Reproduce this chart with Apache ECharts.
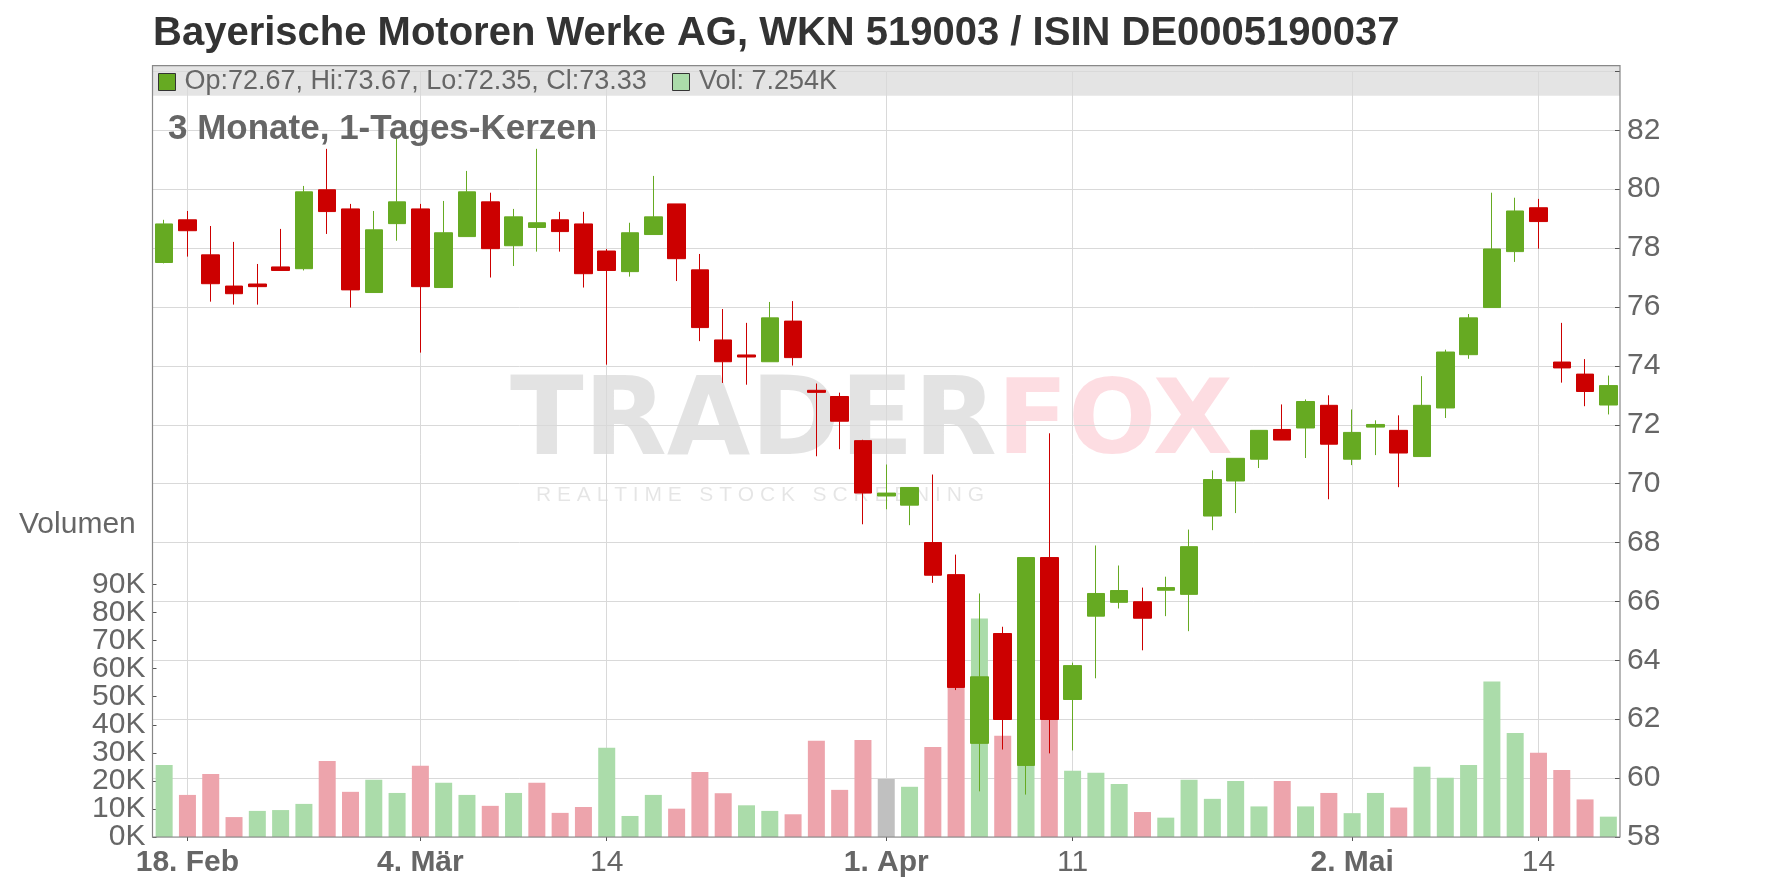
<!DOCTYPE html>
<html><head><meta charset="utf-8">
<script src="https://cdn.jsdelivr.net/npm/echarts@6/dist/echarts.min.js"></script>
<style>html,body{margin:0;padding:0;background:#fff}#c{width:1776px;height:888px}</style>
</head><body><div id="c"></div>
<script>
const dates = ['2025-02-17','2025-02-18','2025-02-19','2025-02-20','2025-02-21','2025-02-24','2025-02-25','2025-02-26','2025-02-27','2025-02-28',
'2025-03-03','2025-03-04','2025-03-05','2025-03-06','2025-03-07','2025-03-10','2025-03-11','2025-03-12','2025-03-13','2025-03-14',
'2025-03-17','2025-03-18','2025-03-19','2025-03-20','2025-03-21','2025-03-24','2025-03-25','2025-03-26','2025-03-27','2025-03-28','2025-03-31',
'2025-04-01','2025-04-02','2025-04-03','2025-04-04','2025-04-07','2025-04-08','2025-04-09','2025-04-10','2025-04-11','2025-04-14','2025-04-15',
'2025-04-16','2025-04-17','2025-04-22','2025-04-23','2025-04-24','2025-04-25','2025-04-28','2025-04-29','2025-04-30',
'2025-05-02','2025-05-05','2025-05-06','2025-05-07','2025-05-08','2025-05-09','2025-05-12','2025-05-13','2025-05-14','2025-05-15','2025-05-16','2025-05-19'];

const open  = [77.51,78.96,77.77,76.71,76.78,77.36,77.30,79.98,79.33,76.49,78.83,79.33,76.66,78.39,79.57,78.08,78.70,78.96,78.82,77.90,
77.20,78.46,79.50,77.26,74.88,74.37,74.14,75.52,73.17,72.96,71.46,69.58,69.27,68.00,66.91,61.18,64.91,60.43,67.49,62.67,
65.50,65.97,65.99,66.38,66.24,68.90,70.09,70.83,71.84,71.89,72.66,70.83,71.92,71.81,70.92,72.57,74.38,75.98,77.88,79.37,74.13,73.72,72.67];
const close = [78.82,78.59,76.79,76.45,76.69,77.24,79.91,79.24,76.58,78.62,79.57,76.69,78.52,79.91,77.98,79.06,78.86,78.56,77.13,77.24,
78.52,79.06,77.64,75.30,74.14,74.30,75.63,74.28,73.10,72.12,69.68,69.68,69.87,66.89,63.08,63.44,61.99,67.49,61.99,63.82,
66.27,66.37,65.43,66.47,67.86,70.14,70.86,71.81,71.48,72.79,71.34,71.74,72.01,71.04,72.66,74.47,75.63,77.97,79.26,78.90,73.93,73.13,73.33];
const low   = [77.48,77.71,76.18,76.08,76.08,77.24,77.24,78.48,75.98,76.49,78.25,74.45,76.66,78.39,77.00,77.39,77.88,77.88,76.66,74.04,
77.03,78.46,76.88,74.84,73.42,73.36,74.14,74.01,70.93,71.17,68.62,69.13,68.59,66.63,62.99,59.55,60.97,59.44,60.84,60.94,
63.39,65.76,64.34,65.50,64.99,68.42,69.00,70.53,71.48,70.87,69.47,70.63,70.97,69.88,70.92,72.23,74.24,75.98,77.53,77.98,73.43,72.63,72.35];
const high  = [78.96,79.26,78.75,78.21,77.46,78.65,80.11,81.37,79.50,79.26,81.75,79.50,79.60,80.62,79.88,79.33,81.37,79.23,79.23,77.97,
78.86,80.45,79.50,77.80,75.93,75.46,76.17,76.20,73.40,73.09,71.49,70.65,69.87,70.31,67.59,66.27,65.14,67.49,71.71,63.92,
67.90,67.22,66.47,66.84,68.44,70.45,70.86,71.81,72.69,72.86,73.00,72.52,72.15,72.32,73.65,74.55,75.76,79.88,79.71,79.67,75.46,74.23,73.67];
const volume = [25700,15000,22500,7100,9300,9600,11800,27100,16100,20400,15700,25400,19300,15000,11100,15700,19300,8600,10700,31800,
7500,15000,10100,23200,15600,11300,9300,8100,34300,16800,34600,20700,17900,32100,55000,77900,36100,28000,45000,23600,
22900,18900,8900,6900,20400,13600,20000,10900,20000,10900,15700,8500,15700,10500,25000,21100,25700,55400,37100,30000,23900,13400,7254];

const tickIndex = [1, 11, 19, 31, 39, 51, 59];
const tickText  = ['18. Feb', '4. Mär', '14', '1. Apr', '11', '2. Mai', '14'];
const tickBold  = [true, true, false, true, false, true, false];

const priceMin = 58, priceMax = 84, priceStep = 2, priceLabelMax = 82;
const volMin = 0, volMax = 90000, volStep = 10000;

const legendOHLC = 'Op:72.67, Hi:73.67, Lo:72.35, Cl:73.33';
const legendVol = 'Vol: 7.254K';
const titleText = 'Bayerische Motoren Werke AG, WKN 519003 / ISIN DE0005190037';
const subTitle = '3 Monate, 1-Tages-Kerzen';

const UP = '#66aa22', DOWN = '#cc0000';
const VUP = '#abdcaa', VDOWN = '#eda4ac', VEQ = '#c0c0c0';
const FONT = '"Liberation Sans", Arial, sans-serif';

const candleData = dates.map((d, i) => [open[i], close[i], low[i], high[i]]);
const volData = volume.map((v, i) => {
  let c = VUP;
  if (i > 0) c = close[i] > close[i-1] ? VUP : (close[i] < close[i-1] ? VDOWN : VEQ);
  return { value: v, itemStyle: { color: c } };
});

const isTick = (idx) => tickIndex.indexOf(idx) >= 0;

const PL = 152.5, PR = 1620, PT = 65.7, PB = 837;
const VT = 584.5;                       // y of volMax
const VSTEP = (PB - VT) / ((volMax - volMin) / volStep);   // px per volume step
const volLabel = { color: '#666', fontSize: 30, fontFamily: FONT, margin: 7, padding: [9, 0, 0, 0], hideOverlap: false,
  showMinLabel: true, showMaxLabel: true, formatter: (v) => v < 0 ? '' : (v / 1000) + 'K' };
const hiddenX = (g) => ({ type: 'category', gridIndex: g, data: dates, boundaryGap: true, show: false });

const chart = echarts.init(document.getElementById('c'), null, { renderer: 'canvas' });
chart.setOption({
  animation: false,
  backgroundColor: '#fff',
  textStyle: { fontFamily: FONT },
  grid: [
    { left: PL, top: 71.4, width: PR - PL, height: PB - 71.4, show: false },
    { left: PL, top: VT, width: PR - PL, height: PB - VT, show: false },
    { left: PL, top: VT, width: PR - PL, height: PB - VT + VSTEP, show: false },
    { left: PL, top: VT + VSTEP, width: PR - PL, height: PB - VT - VSTEP, show: false }
  ],
  xAxis: [
    { type: 'category', gridIndex: 0, data: dates, boundaryGap: true,
      axisLine: { show: false },
      axisTick: { show: true, alignWithLabel: true, interval: (i) => isTick(i), length: 4, lineStyle: { color: '#555' } },
      axisLabel: { show: true, interval: (i) => isTick(i), margin: 11, color: '#666', fontSize: 30, fontFamily: FONT, hideOverlap: false,
        formatter: (val, idx) => { const k = tickIndex.indexOf(idx); if (k < 0) return ''; return (tickBold[k] ? '{b|' : '{n|') + tickText[k] + '}'; },
        rich: { b: { fontWeight: 'bold', fontSize: 30, color: '#666', fontFamily: FONT }, n: { fontWeight: 'normal', fontSize: 30, color: '#666', fontFamily: FONT } } },
      splitLine: { show: true, alignWithLabel: true, interval: (i) => isTick(i), lineStyle: { color: '#d9d9d9', width: 1 } }
    },
    hiddenX(1), hiddenX(2), hiddenX(3)
  ],
  yAxis: [
    { type: 'value', gridIndex: 0, position: 'right', min: priceMin, max: priceMax, interval: priceStep,
      axisLine: { show: false },
      axisTick: { show: true, inside: true, length: 5, lineStyle: { color: '#555' } },
      axisLabel: { color: '#666', fontSize: 30, fontFamily: FONT, margin: 7, padding: [7, 0, 0, 0], showMinLabel: true, hideOverlap: false,
        formatter: (v) => v > priceLabelMax ? '' : String(v) },
      splitLine: { show: true, lineStyle: { color: '#d9d9d9', width: 1 } }
    },
    { type: 'value', gridIndex: 1, position: 'left', min: volMin, max: volMax, interval: volStep,
      axisLine: { show: false },
      axisTick: { show: true, inside: true, length: 4, lineStyle: { color: '#555' } },
      axisLabel: { show: false }, splitLine: { show: false }
    },
    { type: 'value', gridIndex: 2, position: 'left', min: volMin - volStep, max: volMax, interval: 2 * volStep,
      axisLine: { show: false }, axisTick: { show: false }, splitLine: { show: false }, axisLabel: volLabel },
    { type: 'value', gridIndex: 3, position: 'left', min: volMin, max: volMax - volStep, interval: 2 * volStep,
      axisLine: { show: false }, axisTick: { show: false }, splitLine: { show: false }, axisLabel: volLabel }
  ],
  series: [
    { type: 'bar', xAxisIndex: 1, yAxisIndex: 1, data: volData, barWidth: 17, z: 1, silent: true },
    { type: 'candlestick', xAxisIndex: 0, yAxisIndex: 0, data: candleData, barWidth: 18, z: 3, silent: true,
      itemStyle: { color: UP, color0: DOWN, borderColor: UP, borderColor0: DOWN, borderWidth: 1 } }
  ],
  graphic: [
    { type: 'rect', z: -5, shape: { x: PL, y: PT, width: PR - PL, height: 30 }, style: { fill: '#e4e4e4' } },
    { type: 'text', z: -4, x: 510, y: 426, style: { text: 'TRADER', fontSize: 108, fontWeight: 'bold', fontFamily: '"DejaVu Sans", sans-serif', fill: 'rgba(0,0,0,0.11)', verticalAlign: 'middle' } },
    { type: 'text', z: -4, x: 997, y: 426, style: { text: 'FOX', fontSize: 104, fontWeight: 'bold', fontFamily: '"DejaVu Sans", sans-serif', fill: 'rgba(240,30,60,0.15)', verticalAlign: 'middle' } },
    { type: 'text', z: -4, x: 536, y: 495, style: { text: 'R E A L T I M E   S T O C K   S C R E E N I N G', fontSize: 21, fontFamily: FONT, fill: 'rgba(0,0,0,0.10)', verticalAlign: 'middle' } },
    { type: 'rect', z: 50, shape: { x: PL, y: PT, width: PR - PL, height: PB - PT }, style: { fill: null, stroke: '#888', lineWidth: 1.2 } },
    { type: 'text', x: 153, y: 34, style: { text: titleText, fontSize: 40, fontWeight: 'bold', fontFamily: FONT, fill: '#333', verticalAlign: 'middle' } },
    { type: 'rect', z: 51, shape: { x: 158.5, y: 73.5, width: 17, height: 17 }, style: { fill: UP, stroke: '#333', lineWidth: 1 } },
    { type: 'text', z: 51, x: 184.5, y: 82, style: { text: legendOHLC, fontSize: 27, fontFamily: FONT, fill: '#666', verticalAlign: 'middle' } },
    { type: 'rect', z: 51, shape: { x: 672.5, y: 73.5, width: 17, height: 17 }, style: { fill: VUP, stroke: '#333', lineWidth: 1 } },
    { type: 'text', z: 51, x: 699, y: 82, style: { text: legendVol, fontSize: 27, fontFamily: FONT, fill: '#666', verticalAlign: 'middle' } },
    { type: 'text', z: 51, x: 168, y: 129, style: { text: subTitle, fontSize: 35, fontWeight: 'bold', fontFamily: FONT, fill: '#666', verticalAlign: 'middle' } },
    { type: 'text', z: 51, x: 19, y: 525, style: { text: 'Volumen', fontSize: 30, fontFamily: FONT, fill: '#666', verticalAlign: 'middle' } }
  ]
});
</script>
</body></html>
